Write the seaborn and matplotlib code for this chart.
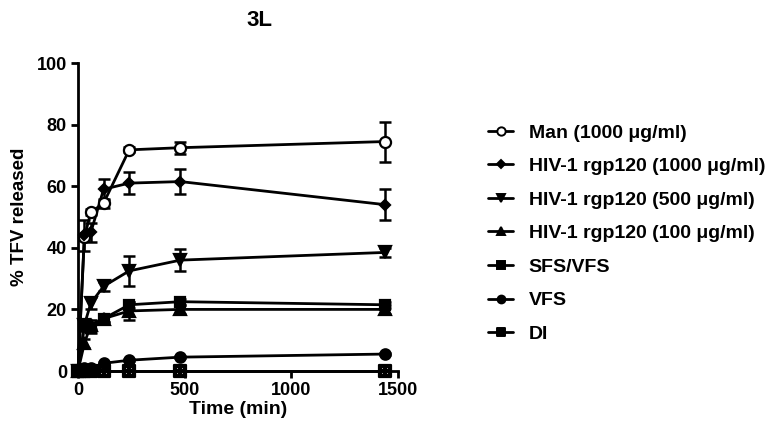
import numpy as np
import pandas as pd
import matplotlib
matplotlib.use("Agg")
import matplotlib.pyplot as plt
from matplotlib.path import Path
from matplotlib.lines import Line2D
import seaborn as sns

# data
time_min = [0, 30, 60, 120, 240, 480, 1440]
series_names = ['Man (1000 \u03bcg/ml)', 'HIV-1 rgp120 (1000 \u03bcg/ml)',
                'HIV-1 rgp120 (500 \u03bcg/ml)', 'HIV-1 rgp120 (100 \u03bcg/ml)',
                'SFS/VFS', 'VFS', 'DI']
man = [0, 43.5, 51.5, 54.5, 71.8, 72.5, 74.5]
man_err = [0, 1.0, 1.0, 1.5, 0.8, 2.0, 6.5]
hiv1000 = [0, 44.0, 45.0, 59.0, 61.0, 61.5, 54.0]
hiv1000_err = [0, 5.0, 3.0, 3.5, 3.5, 4.0, 5.0]
hiv500 = [0, 15.0, 22.0, 27.5, 32.5, 36.0, 38.5]
hiv500_err = [0, 2.0, 2.0, 1.5, 5.0, 3.5, 1.5]
hiv100 = [0, 9.0, 15.0, 17.0, 19.5, 20.0, 20.0]
hiv100_err = [0, 1.5, 1.5, 1.0, 3.0, 1.5, 1.5]
sfs_vfs = [0, 15.0, 14.0, 17.0, 21.5, 22.5, 21.5]
sfs_vfs_err = [0, 1.5, 1.5, 1.0, 1.0, 1.0, 1.0]
vfs = [0, 1.0, 1.0, 2.5, 3.5, 4.5, 5.5]
vfs_err = [0, 0.3, 0.3, 0.3, 0.3, 0.3, 0.3]
di = [0, 0, 0, 0, 0, 0, 0]
di_err = [0, 0, 0, 0, 0, 0, 0]

values = [man, hiv1000, hiv500, hiv100, sfs_vfs, vfs, di]
errors = [man_err, hiv1000_err, hiv500_err, hiv100_err, sfs_vfs_err, vfs_err, di_err]

# boxed-plus marker for DI
outer = [(-1, -1), (1, -1), (1, 1), (-1, 1), (-1, -1)]
def hole(x0, y0, x1, y1):
    return [(x0, y0), (x0, y1), (x1, y1), (x1, y0), (x0, y0)]
holes = [hole(-0.65, -0.65, -0.18, -0.18), hole(0.18, -0.65, 0.65, -0.18),
         hole(-0.65, 0.18, -0.18, 0.65), hole(0.18, 0.18, 0.65, 0.65)]
verts, codes = [], []
for poly in [outer] + holes:
    verts += poly
    codes += [Path.MOVETO] + [Path.LINETO] * 3 + [Path.CLOSEPOLY]
boxplus = Path(verts, codes)

markers = ['o', 'D', 'v', '^', 's', 'o', boxplus]
faces = ['white', 'black', 'black', 'black', 'black', 'black', 'black']
sizes = [8, 5.5, 8, 8, 7.5, 7.5, 8]

sns.set_style("ticks")
plt.rcParams['font.family'] = ['Liberation Sans', 'DejaVu Sans']
plt.rcParams['font.weight'] = 'bold'
for key in ['text.color', 'axes.labelcolor', 'xtick.color', 'ytick.color', 'axes.edgecolor']:
    plt.rcParams[key] = 'black'

fig = plt.figure(figsize=(7.77, 4.30), dpi=100)
ax = fig.add_axes([78 / 777, 59 / 430, 320 / 777, 308 / 430])

rows = []
for name, vals in zip(series_names, values):
    for t, v in zip(time_min, vals):
        rows.append({'time': t, 'value': v, 'series': name})
df = pd.DataFrame(rows)

sns.lineplot(data=df, x='time', y='value', hue='series', palette=['black'] * 7,
             hue_order=series_names, linewidth=2.0, legend=False, ax=ax,
             estimator=None, errorbar=None)

handles = []
for name, vals, err, m, fc, ms in zip(series_names, values, errors, markers, faces, sizes):
    ax.errorbar(time_min, vals, yerr=err, fmt='none', ecolor='black',
                elinewidth=1.8, capsize=4, capthick=1.8, clip_on=False, zorder=3)
    ax.plot(time_min, vals, linestyle='none', marker=m, markersize=ms,
            markerfacecolor=fc, markeredgecolor='black', markeredgewidth=1.6,
            clip_on=False, zorder=4)
    handles.append(Line2D([0], [0], color='black', linewidth=2.0, marker=m,
                          markersize=ms * 0.75, markerfacecolor=fc, markeredgecolor='black',
                          markeredgewidth=1.4, label=name))

for line in ax.lines[:7]:
    line.set_clip_on(False)

ax.set_xlim(0, 1500)
ax.set_ylim(0, 100)
ax.set_xticks([0, 500, 1000, 1500])
ax.set_yticks([0, 20, 40, 60, 80, 100])
ax.set_xlabel('Time (min)', fontsize=14, fontweight='bold', labelpad=1)
ax.set_ylabel('% TFV released', fontsize=13.5, fontweight='bold', labelpad=6)
ax.tick_params(axis='both', labelsize=13, width=2.0, length=5, direction='out', pad=3)
for lab in ax.get_xticklabels() + ax.get_yticklabels():
    lab.set_fontweight('bold')
for sp in ['left', 'bottom']:
    ax.spines[sp].set_linewidth(2.0)
sns.despine(ax=ax)

fig.text(259 / 777, 1 - 21 / 430, '3L', ha='center', va='center',
         fontsize=16, fontweight='bold')

fig.legend(handles=handles, loc='upper left', bbox_to_anchor=(488 / 777, 1 - 124 / 430),
           frameon=False, prop={'size': 14, 'weight': 'bold'}, handlelength=1.3,
           handletextpad=0.8, labelspacing=0.82, borderaxespad=0, borderpad=0)

fig.savefig('out.png', dpi=100)
